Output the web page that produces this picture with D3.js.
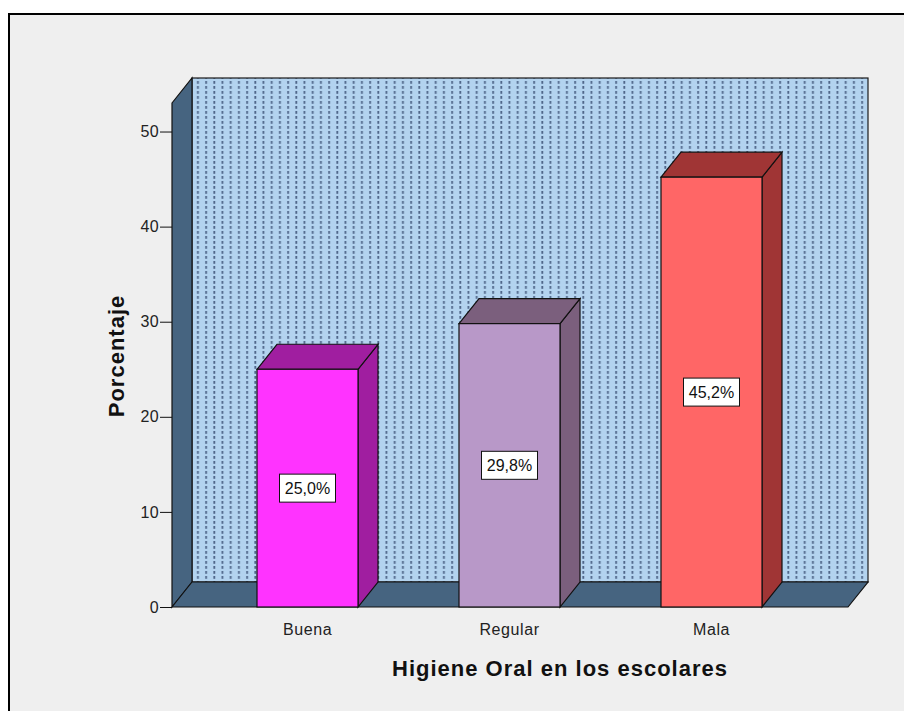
<!DOCTYPE html>
<html><head><meta charset="utf-8">
<script src="https://cdn.jsdelivr.net/npm/d3@7"></script>
<style>body{margin:0;background:#fff;} text{font-family:Arial,"Liberation Sans",sans-serif;}</style>
</head><body><svg id="c" width="904" height="711"></svg>
<script>
const categories = ["Buena", "Regular", "Mala"];
const values = [25.0, 29.8, 45.2];
const valueLabels = ["25,0%", "29,8%", "45,2%"];
const yTicks = [0, 10, 20, 30, 40, 50];
const frontColors = ["#ff33ff", "#b898c8", "#ff6666"];
const sideColors = ["#a01ea0", "#7b5f7d", "#a03535"];
const xTitle = "Higiene Oral en los escolares";
const yTitle = "Porcentaje";

const svg = d3.select("#c");
svg.append("rect").attr("x",0).attr("y",0).attr("width",904).attr("height",711).attr("fill","#ffffff");
svg.append("rect").attr("x",9).attr("y",14).attr("width",900).attr("height",700)
  .attr("fill","#efefef").attr("stroke","#000").attr("stroke-width",2);

const dx = 20, dy = -25;
const x0 = 172, x1 = 848;
const y = d3.scaleLinear().domain([0, 53]).range([607, 103]);
const x = d3.scaleBand().domain(categories).range([206.5, 812.5]).paddingInner(0.5).paddingOuter(0.25);

const defs = svg.append("defs");
const pat = defs.append("pattern").attr("id","dots").attr("patternUnits","userSpaceOnUse")
  .attr("width",8.2).attr("height",5).attr("x",x0+dx+2).attr("y",0);
pat.append("rect").attr("width",8.2).attr("height",5).attr("fill","#b3d3ef");
pat.append("rect").attr("x",3).attr("y",1).attr("width",1.8).attr("height",2.8).attr("fill","#50678a");

const yTop = y.range()[1], yBot = y.range()[0];
// back wall
svg.append("rect").attr("x",x0+dx).attr("y",yTop+dy).attr("width",x1-x0).attr("height",yBot-yTop)
  .attr("fill","url(#dots)").attr("stroke","#1a1a1a").attr("stroke-width",1.2);
// left wall
const wall = "#466480";
svg.append("polygon").attr("points",[[x0,yTop],[x0+dx,yTop+dy],[x0+dx,yBot+dy],[x0,yBot]].join(" "))
  .attr("fill",wall).attr("stroke","#111").attr("stroke-width",1.2);
// floor
svg.append("polygon").attr("points",[[x0,yBot],[x0+dx,yBot+dy],[x1+dx,yBot+dy],[x1,yBot]].join(" "))
  .attr("fill",wall).attr("stroke","#111").attr("stroke-width",1.2);

// bars
categories.forEach((c,i)=>{
  const bx = x(c), bw = x.bandwidth(), by = y(values[i]);
  const g = svg.append("g");
  g.append("polygon").attr("points",[[bx+bw,by],[bx+bw+dx,by+dy],[bx+bw+dx,yBot+dy],[bx+bw,yBot]].join(" "))
    .attr("fill",sideColors[i]).attr("stroke","#111").attr("stroke-width",1.2);
  g.append("polygon").attr("points",[[bx,by],[bx+dx,by+dy],[bx+bw+dx,by+dy],[bx+bw,by]].join(" "))
    .attr("fill",sideColors[i]).attr("stroke","#111").attr("stroke-width",1.2);
  g.append("rect").attr("x",bx).attr("y",by).attr("width",bw).attr("height",yBot-by)
    .attr("fill",frontColors[i]).attr("stroke","#111").attr("stroke-width",1.2);
  const cy = y(values[i]/2), cx = bx + bw/2;
  g.append("rect").attr("x",cx-28).attr("y",cy-14).attr("width",56).attr("height",28)
    .attr("fill","#fff").attr("stroke","#111").attr("stroke-width",1);
  g.append("text").attr("x",cx).attr("y",cy+6).attr("text-anchor","middle")
    .attr("font-size",16).attr("fill","#111").text(valueLabels[i]);
});

// y axis
const ya = svg.append("g").attr("transform",`translate(${x0},0)`)
  .call(d3.axisLeft(y).tickValues(yTicks).tickSize(12).tickPadding(1).tickFormat(d3.format("d")));
ya.select(".domain").remove();
ya.selectAll("line").attr("stroke","#111");
ya.selectAll("text").attr("font-size",16).attr("letter-spacing",0.3).attr("fill","#222").attr("font-family","Arial,'Liberation Sans',sans-serif");

// x axis labels
const xa = svg.append("g").attr("transform",`translate(0,${yBot})`)
  .call(d3.axisBottom(x).tickSize(0).tickPadding(17));
xa.select(".domain").remove();
xa.selectAll("text").attr("font-size",16).attr("letter-spacing",0.6).attr("fill","#222").attr("font-family","Arial,'Liberation Sans',sans-serif");

svg.append("text").attr("x",560).attr("y",676).attr("text-anchor","middle")
  .attr("font-size",22).attr("letter-spacing",1).attr("font-weight","bold").attr("fill","#111").text(xTitle);
svg.append("text").attr("transform","translate(124,356) rotate(-90)").attr("text-anchor","middle")
  .attr("font-size",22).attr("letter-spacing",1).attr("font-weight","bold").attr("fill","#111").text(yTitle);
</script></body></html>
